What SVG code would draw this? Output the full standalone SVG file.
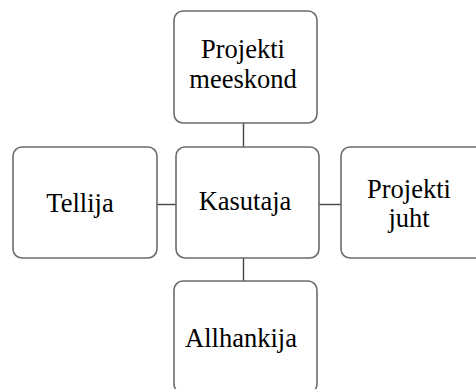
<svg xmlns="http://www.w3.org/2000/svg" width="476" height="389" viewBox="0 0 476 389">
<style>
.box{fill:#fff;stroke:#6b6b6b;stroke-width:1.6}
.lbl{font-family:'Liberation Serif','Times New Roman',Times,'DejaVu Serif',serif;font-size:26.5px;fill:#000;text-anchor:middle}
.con{stroke:#444;stroke-width:1.4;fill:none}
</style>
<rect width="476" height="389" fill="#fff"/>
<g id="connectors">
<line class="con" x1="243.5" y1="123" x2="243.5" y2="147"/>
<line class="con" x1="243.5" y1="258" x2="243.5" y2="281"/>
<line class="con" x1="157" y1="204.5" x2="176" y2="204.5"/>
<line class="con" x1="319" y1="204.5" x2="341" y2="204.5"/>
</g>
<g id="projekti-meeskond">
<rect class="box" x="174" y="11" width="143" height="112" rx="9"/>
<text class="lbl" x="243" y="58">Projekti</text>
<text class="lbl" x="243" y="88">meeskond</text>
</g>
<g id="tellija">
<rect class="box" x="13" y="147" width="144" height="111" rx="9"/>
<text class="lbl" x="80" y="212">Tellija</text>
</g>
<g id="kasutaja">
<rect class="box" x="176" y="147" width="143" height="111" rx="9"/>
<text class="lbl" x="245" y="210">Kasutaja</text>
</g>
<g id="projekti-juht">
<rect class="box" x="341" y="147" width="144" height="111" rx="9"/>
<text class="lbl" x="409" y="198">Projekti</text>
<text class="lbl" x="409" y="227">juht</text>
</g>
<g id="allhankija">
<rect class="box" x="174" y="281" width="143" height="112" rx="9"/>
<text class="lbl" x="241" y="347">Allhankija</text>
</g>
</svg>
